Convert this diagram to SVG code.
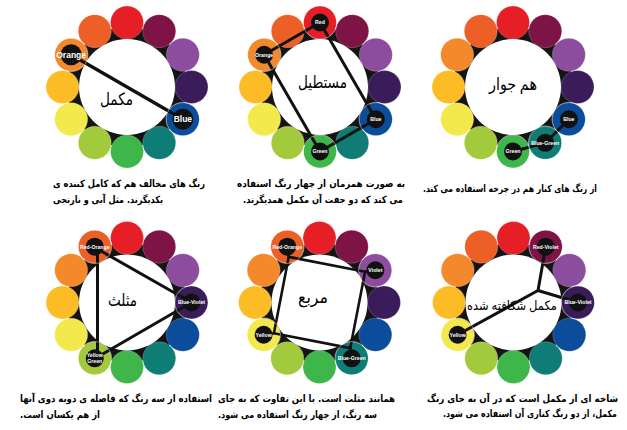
<svg xmlns="http://www.w3.org/2000/svg" xmlns:xlink="http://www.w3.org/1999/xlink" width="627" height="430" viewBox="0 0 627 430">
<style>
.c{stroke:#fff;stroke-opacity:0.35;stroke-width:0.6}
.hd{fill:#111}
.hr{fill:none;stroke:#fff;stroke-opacity:0.45;stroke-width:1}
.lb{font-family:"Liberation Sans",Arial,sans-serif;font-weight:bold;fill:#fff;text-anchor:middle;font-size:5.2px}
.lb1{font-size:8.5px}
.ln{fill:none;stroke:#111;stroke-width:3;stroke-linejoin:round;stroke-linecap:round}
.tt{font-family:"Liberation Serif","DejaVu Sans",serif;font-size:17px;fill:#000;text-anchor:middle;direction:rtl}
.cap{font-family:"DejaVu Sans","Liberation Sans",sans-serif;font-weight:bold;font-size:10px;fill:#000;text-anchor:middle;direction:rtl}
</style>
<defs>
<g id="wb">
<circle r="60" fill="#141414"/>
<circle class="c" cx="0" cy="-64.5" r="16.5" fill="#e61e25"/>
<circle class="c" cx="32.25" cy="-55.86" r="16.5" fill="#7e1346"/>
<circle class="c" cx="55.86" cy="-32.25" r="16.5" fill="#8c4d9e"/>
<circle class="c" cx="64.5" cy="0" r="16.5" fill="#3b1c5a"/>
<circle class="c" cx="55.86" cy="32.25" r="16.5" fill="#0b4c9b"/>
<circle class="c" cx="32.25" cy="55.86" r="16.5" fill="#0f7d76"/>
<circle class="c" cx="0" cy="64.5" r="16.5" fill="#3eb649"/>
<circle class="c" cx="-32.25" cy="55.86" r="16.5" fill="#a3c93c"/>
<circle class="c" cx="-55.86" cy="32.25" r="16.5" fill="#f4e94c"/>
<circle class="c" cx="-64.5" cy="0" r="16.5" fill="#fcbc25"/>
<circle class="c" cx="-55.86" cy="-32.25" r="16.5" fill="#f3892a"/>
<circle class="c" cx="-32.25" cy="-55.86" r="16.5" fill="#ec5f27"/>
<circle r="48" fill="#fff"/>
</g>
</defs>
<rect width="627" height="430" fill="#fff"/>
<g id="wheels">
<g id="wheel-complementary"><use xlink:href="#wb" x="127" y="87"/></g>
<g id="wheel-rectangle"><use xlink:href="#wb" x="320" y="87"/></g>
<g id="wheel-analogous"><use xlink:href="#wb" x="513" y="87"/></g>
<g id="wheel-triad"><use xlink:href="#wb" x="127" y="302.5"/></g>
<g id="wheel-square"><use xlink:href="#wb" x="319.5" y="302.5"/></g>
<g id="wheel-split"><use xlink:href="#wb" x="513.5" y="302.5"/></g>
</g>
<g id="connectors" class="ln">
<line x1="71.14" y1="54.75" x2="182.86" y2="119.25" style="stroke-width:3.3"/>
<polygon points="320,22.5 375.86,119.25 320,151.5 264.14,54.75"/>
<polyline points="568.86,119.25 545.25,142.86 513,151.5"/>
<polygon points="97.5,249 191.5,302.5 97.5,357"/>
<polygon points="288.74,256.9 365.1,271.74 350.26,348.1 273.9,333.26" style="stroke-width:2.6"/>
<path d="M288.74,256.9L287.25,246.64M365.1,271.74L375.36,270.25M350.26,348.1L351.75,358.36M273.9,333.26L263.64,334.75" style="stroke-width:2.6"/>
<path d="M538,290.5L545.75,246.64M538,290.5L578,302.5M538,290.5L457.64,334.75"/>
</g>
<g id="highlights">
<g id="w1-orange"><circle class="hr" cx="71.14" cy="54.75" r="16.8"/><circle class="hd" cx="71.14" cy="54.75" r="10.5"/><text class="lb lb1" x="71.14" y="57.7">Orange</text></g>
<g id="w1-blue"><circle class="hr" cx="182.86" cy="119.25" r="16.8"/><circle class="hd" cx="182.86" cy="119.25" r="10.5"/><text class="lb lb1" x="182.86" y="122.2">Blue</text></g>
<g id="w2-red"><circle class="hr" cx="320" cy="22.5" r="16.8"/><circle class="hd" cx="320" cy="22.5" r="9"/><text class="lb" x="320" y="24.4">Red</text></g>
<g id="w2-orange"><circle class="hr" cx="264.14" cy="54.75" r="16.8"/><circle class="hd" cx="264.14" cy="54.75" r="9"/><text class="lb" x="264.14" y="56.6">Orange</text></g>
<g id="w2-blue"><circle class="hr" cx="375.86" cy="119.25" r="16.8"/><circle class="hd" cx="375.86" cy="119.25" r="9"/><text class="lb" x="375.86" y="121.1">Blue</text></g>
<g id="w2-green"><circle class="hr" cx="320" cy="151.5" r="16.8"/><circle class="hd" cx="320" cy="151.5" r="9"/><text class="lb" x="320" y="153.4">Green</text></g>
<g id="w3-blue"><circle class="hr" cx="568.86" cy="119.25" r="16.8"/><circle class="hd" cx="568.86" cy="119.25" r="9"/><text class="lb" x="568.86" y="121.1">Blue</text></g>
<g id="w3-blue-green"><circle class="hr" cx="545.25" cy="142.86" r="16.8"/><circle class="hd" cx="545.25" cy="142.86" r="9"/><text class="lb" x="545.25" y="144.7">Blue-Green</text></g>
<g id="w3-green"><circle class="hr" cx="513" cy="151.5" r="16.8"/><circle class="hd" cx="513" cy="151.5" r="9"/><text class="lb" x="513" y="153.4">Green</text></g>
<g id="w4-red-orange"><circle class="hr" cx="94.75" cy="246.64" r="16.8"/><circle class="hd" cx="94.75" cy="246.64" r="9"/><text class="lb" x="94.75" y="248.5">Red-Orange</text></g>
<g id="w4-blue-violet"><circle class="hr" cx="191.5" cy="302.5" r="16.8"/><circle class="hd" cx="191.5" cy="302.5" r="9"/><text class="lb" x="191.5" y="304.4">Blue-Violet</text></g>
<g id="w4-yellow-green"><circle class="hr" cx="94.75" cy="358.36" r="16.8"/><circle class="hd" cx="94.75" cy="358.36" r="9"/><text class="lb" x="94.75" y="357.4">Yellow</text><text class="lb" x="94.75" y="363">Green</text></g>
<g id="w5-red-orange"><circle class="hr" cx="287.25" cy="246.64" r="16.8"/><circle class="hd" cx="287.25" cy="246.64" r="9"/><text class="lb" x="287.25" y="248.5">Red-Orange</text></g>
<g id="w5-violet"><circle class="hr" cx="375.36" cy="270.25" r="16.8"/><circle class="hd" cx="375.36" cy="270.25" r="9"/><text class="lb" x="375.36" y="272.1">Violet</text></g>
<g id="w5-blue-green"><circle class="hr" cx="351.75" cy="358.36" r="16.8"/><circle class="hd" cx="351.75" cy="358.36" r="9"/><text class="lb" x="351.75" y="360.2">Blue-Green</text></g>
<g id="w5-yellow"><circle class="hr" cx="263.64" cy="334.75" r="16.8"/><circle class="hd" cx="263.64" cy="334.75" r="9"/><text class="lb" x="263.64" y="336.6">Yellow</text></g>
<g id="w6-red-violet"><circle class="hr" cx="545.75" cy="246.64" r="16.8"/><circle class="hd" cx="545.75" cy="246.64" r="9"/><text class="lb" x="545.75" y="248.5">Red-Violet</text></g>
<g id="w6-blue-violet"><circle class="hr" cx="578" cy="302.5" r="16.8"/><circle class="hd" cx="578" cy="302.5" r="9"/><text class="lb" x="578" y="304.4">Blue-Violet</text></g>
<g id="w6-yellow"><circle class="hr" cx="457.64" cy="334.75" r="16.8"/><circle class="hd" cx="457.64" cy="334.75" r="9"/><text class="lb" x="457.64" y="336.6">Yellow</text></g>
</g>
<g id="titles">
<text class="tt" x="116.5" y="105" textLength="33" lengthAdjust="spacingAndGlyphs">مکمل</text>
<text class="tt" x="322.5" y="88" textLength="49" lengthAdjust="spacingAndGlyphs">مستطیل</text>
<text class="tt" x="513" y="90" textLength="48" lengthAdjust="spacingAndGlyphs">هم جوار</text>
<text class="tt" x="122.5" y="306" textLength="29" lengthAdjust="spacingAndGlyphs">مثلث</text>
<text class="tt" x="313" y="303" textLength="30" lengthAdjust="spacingAndGlyphs">مربع</text>
<text class="tt" x="512" y="310" textLength="90" lengthAdjust="spacingAndGlyphs" style="font-size:13px">مکمل شکافته شده</text>
</g>
<g id="captions">
<text class="cap" x="129" y="187" textLength="152" lengthAdjust="spacingAndGlyphs">رنگ های مخالف هم که کامل کننده ی</text>
<text class="cap" x="108" y="203" textLength="110" lengthAdjust="spacingAndGlyphs">یکدیگرند. مثل آبی و نارنجی</text>
<text class="cap" x="321" y="187" textLength="168" lengthAdjust="spacingAndGlyphs">به صورت همزمان از چهار رنگ استفاده</text>
<text class="cap" x="323" y="203" textLength="160" lengthAdjust="spacingAndGlyphs">می کند که دو جفت آن مکمل همدیگرند.</text>
<text class="cap" x="510" y="192" textLength="174" lengthAdjust="spacingAndGlyphs">از رنگ های کنار هم در چرخه استفاده می کند.</text>
<text class="cap" x="116" y="402" textLength="192" lengthAdjust="spacingAndGlyphs">استفاده از سه رنگ که فاصله ی دوبه دوی آنها</text>
<text class="cap" x="60" y="418" textLength="80" lengthAdjust="spacingAndGlyphs">از هم یکسان است.</text>
<text class="cap" x="306.5" y="402" textLength="177" lengthAdjust="spacingAndGlyphs">همانند مثلث است. با این تفاوت که به جای</text>
<text class="cap" x="297.5" y="418" textLength="159" lengthAdjust="spacingAndGlyphs">سه رنگ، از چهار رنگ استفاده می شود.</text>
<text class="cap" x="522.5" y="402" textLength="191" lengthAdjust="spacingAndGlyphs">شاخه ای از مکمل است که در آن به جای رنگ</text>
<text class="cap" x="530" y="417" textLength="174" lengthAdjust="spacingAndGlyphs">مکمل، از دو رنگ کناری آن استفاده می شود.</text>
</g>
</svg>
